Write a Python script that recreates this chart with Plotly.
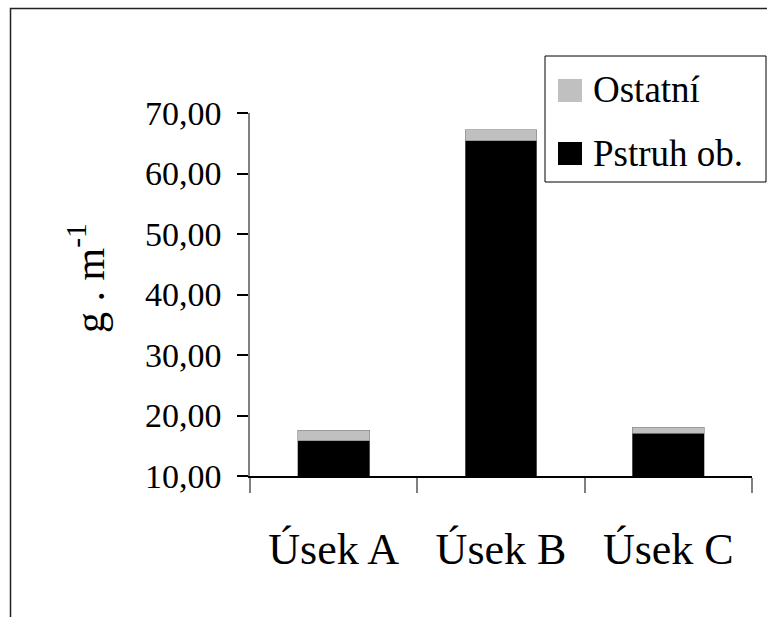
import plotly.graph_objects as go

categories = ["Úsek A", "Úsek B", "Úsek C"]
pstruh = [15.8, 65.4, 17.1]
ostatni = [1.8, 1.8, 1.0]
series_names = ["Pstruh ob.", "Ostatní"]
y_ticks = [10, 20, 30, 40, 50, 60, 70]

W, H = 767, 617
L, R, T, B = 250, 752, 113, 476  # plot area in pixels


def px(x):
    return (x - L) / (R - L)


def py(y):
    return (B - y) / (B - T)


FONT = "Liberation Serif"
BLACK = "#000000"
GRAY = "#c0c0c0"

fig = go.Figure()
fig.add_trace(go.Bar(x=categories, y=pstruh, name=series_names[0],
                     marker=dict(color=BLACK, line=dict(color="#808080", width=0.6))))
fig.add_trace(go.Bar(x=categories, y=ostatni, name=series_names[1],
                     marker=dict(color=GRAY, line=dict(color="#808080", width=0.6))))

shapes = [
    # outer chart frame
    dict(type="rect", xref="paper", yref="paper", x0=px(10.5), y0=py(8.5), x1=px(900), y1=py(900),
         line=dict(color="#222222", width=1.5), fillcolor="rgba(0,0,0,0)", layer="above"),
    # legend box
    dict(type="rect", xref="paper", yref="paper", x0=px(545), y0=py(56), x1=px(766), y1=py(182),
         line=dict(color="#000000", width=1), fillcolor="white", layer="above"),
    dict(type="rect", xref="paper", yref="paper", x0=px(558), y0=py(79), x1=px(582), y1=py(102),
         line=dict(width=0), fillcolor=GRAY, layer="above"),
    dict(type="rect", xref="paper", yref="paper", x0=px(558), y0=py(142), x1=px(582), y1=py(165),
         line=dict(width=0), fillcolor=BLACK, layer="above"),
]

annotations = [
    dict(text=series_names[1], xref="paper", yref="paper", x=px(591), y=py(90),
         xanchor="left", yanchor="middle", showarrow=False,
         font=dict(family=FONT, size=37, color="black")),
    dict(text=series_names[0], xref="paper", yref="paper", x=px(591), y=py(153),
         xanchor="left", yanchor="middle", showarrow=False,
         font=dict(family=FONT, size=37, color="black")),
    dict(text="g . m<sup>-1</sup>", xref="paper", yref="paper", x=px(86), y=py(278),
         xanchor="center", yanchor="middle", showarrow=False, textangle=-90,
         font=dict(family=FONT, size=42, color="black")),
]

fig.update_layout(
    width=W, height=H,
    margin=dict(l=L, r=W - R, t=T, b=H - B, pad=0),
    paper_bgcolor="white", plot_bgcolor="white",
    barmode="stack", bargap=0.57,
    showlegend=False,
    separators=", ",
    font=dict(family=FONT, color="black"),
    shapes=shapes, annotations=annotations,
    xaxis=dict(
        type="category", showgrid=False, showline=True, linecolor="black", linewidth=1.5,
        ticks="outside", tickson="boundaries", ticklen=15, tickcolor="#808080", tickwidth=1.5,
        tickfont=dict(family=FONT, size=44, color="black"), ticklabelstandoff=33,
    ),
    yaxis=dict(
        range=[10, 70], tickvals=y_ticks, tickformat=".2f", showgrid=False, zeroline=False,
        showline=True, linecolor="#808080", linewidth=1.5,
        ticks="outside", ticklen=11, tickcolor="black", tickwidth=1.5,
        tickfont=dict(family=FONT, size=34, color="black"), ticklabelstandoff=9,
    ),
)

fig.write_html("out.html", config={"displayModeBar": False},
               post_script="document.body.style.margin='0';document.body.style.overflow='hidden';")
